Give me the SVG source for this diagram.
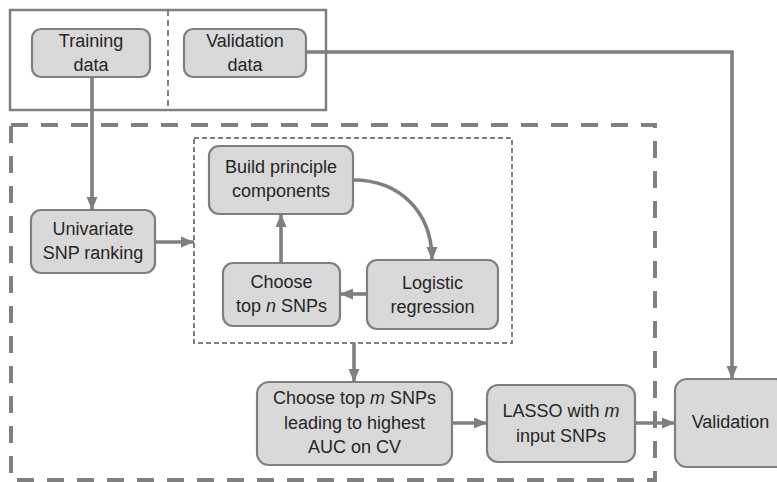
<svg xmlns="http://www.w3.org/2000/svg" width="777" height="482" viewBox="0 0 777 482">
  <style>
    .node rect { fill: #d9d9d9; stroke: #7f7f7f; stroke-width: 2.2; }
    .node text { font-family: "Liberation Sans", Arial, sans-serif; font-size: 18px; fill: #262626; text-anchor: middle; }
    .conn { fill: none; stroke: #7f7f7f; stroke-width: 3.6; }
    .frame { fill: none; stroke: #7f7f7f; }
  </style>
  <defs>
    <marker id="arrow" markerUnits="userSpaceOnUse" markerWidth="14" markerHeight="14" viewBox="0 0 14 14" refX="13" refY="7" orient="auto">
      <path d="M0,1.5 L13,7 L0,12.5 Z" fill="#7f7f7f"/>
    </marker>
  </defs>

  <!-- data split frame -->
  <g id="data-frame">
    <rect class="frame" x="10" y="10" width="316" height="100" stroke-width="2.5"/>
    <line class="frame" x1="168" y1="10" x2="168" y2="110" stroke-width="2" stroke-dasharray="6 4"/>
  </g>

  <!-- training pipeline frame -->
  <g id="training-frame">
    <rect class="frame" x="11" y="125" width="644" height="355" stroke-width="4" stroke-dasharray="17 13"/>
  </g>

  <!-- iterative loop frame -->
  <g id="loop-frame">
    <rect class="frame" x="194" y="138" width="318" height="205" stroke-width="2" stroke-dasharray="5 3"/>
  </g>

  <g id="connectors">
    <line class="conn" x1="92" y1="77" x2="92" y2="210" marker-end="url(#arrow)"/>
    <line class="conn" x1="155" y1="242" x2="194" y2="242" marker-end="url(#arrow)"/>
    <line class="conn" x1="281" y1="263" x2="281" y2="214" marker-end="url(#arrow)"/>
    <path class="conn" d="M353,180 C400,180 432,212 432,260" marker-end="url(#arrow)"/>
    <line class="conn" x1="367" y1="294" x2="340" y2="294" marker-end="url(#arrow)"/>
    <line class="conn" x1="354" y1="343" x2="354" y2="382" marker-end="url(#arrow)"/>
    <line class="conn" x1="452" y1="423" x2="487" y2="423" marker-end="url(#arrow)"/>
    <line class="conn" x1="635" y1="423" x2="675" y2="423" marker-end="url(#arrow)"/>
    <path class="conn" d="M306,52 H732 V379" marker-end="url(#arrow)"/>
  </g>

  <g id="training-data" class="node">
    <rect x="32" y="29" width="118" height="48" rx="9"/>
    <text x="91" y="47">Training</text>
    <text x="91" y="71">data</text>
  </g>

  <g id="validation-data" class="node">
    <rect x="184" y="29" width="122" height="48" rx="9"/>
    <text x="245" y="47">Validation</text>
    <text x="245" y="71">data</text>
  </g>

  <g id="univariate-ranking" class="node">
    <rect x="31" y="210" width="124" height="63" rx="10"/>
    <text x="93" y="235">Univariate</text>
    <text x="93" y="259">SNP ranking</text>
  </g>

  <g id="build-pcs" class="node">
    <rect x="209" y="146" width="144" height="68" rx="10"/>
    <text x="281" y="173">Build principle</text>
    <text x="281" y="197">components</text>
  </g>

  <g id="choose-top-n" class="node">
    <rect x="223" y="263" width="117" height="63" rx="10"/>
    <text x="281.5" y="288">Choose</text>
    <text x="281.5" y="312">top <tspan font-style="italic">n</tspan> SNPs</text>
  </g>

  <g id="logistic-regression" class="node">
    <rect x="367" y="260" width="131" height="69" rx="10"/>
    <text x="432.5" y="289">Logistic</text>
    <text x="432.5" y="313">regression</text>
  </g>

  <g id="choose-top-m" class="node">
    <rect x="257" y="382" width="195" height="83" rx="12"/>
    <text x="354.5" y="404">Choose top <tspan font-style="italic">m</tspan> SNPs</text>
    <text x="354.5" y="428.5">leading to highest</text>
    <text x="354.5" y="453">AUC on CV</text>
  </g>

  <g id="lasso" class="node">
    <rect x="487" y="385" width="148" height="77" rx="11"/>
    <text x="561" y="417">LASSO with <tspan font-style="italic">m</tspan></text>
    <text x="561" y="442">input SNPs</text>
  </g>

  <g id="validation" class="node">
    <rect x="675" y="379" width="112" height="88" rx="12"/>
    <text x="730.5" y="428">Validation</text>
  </g>
</svg>
